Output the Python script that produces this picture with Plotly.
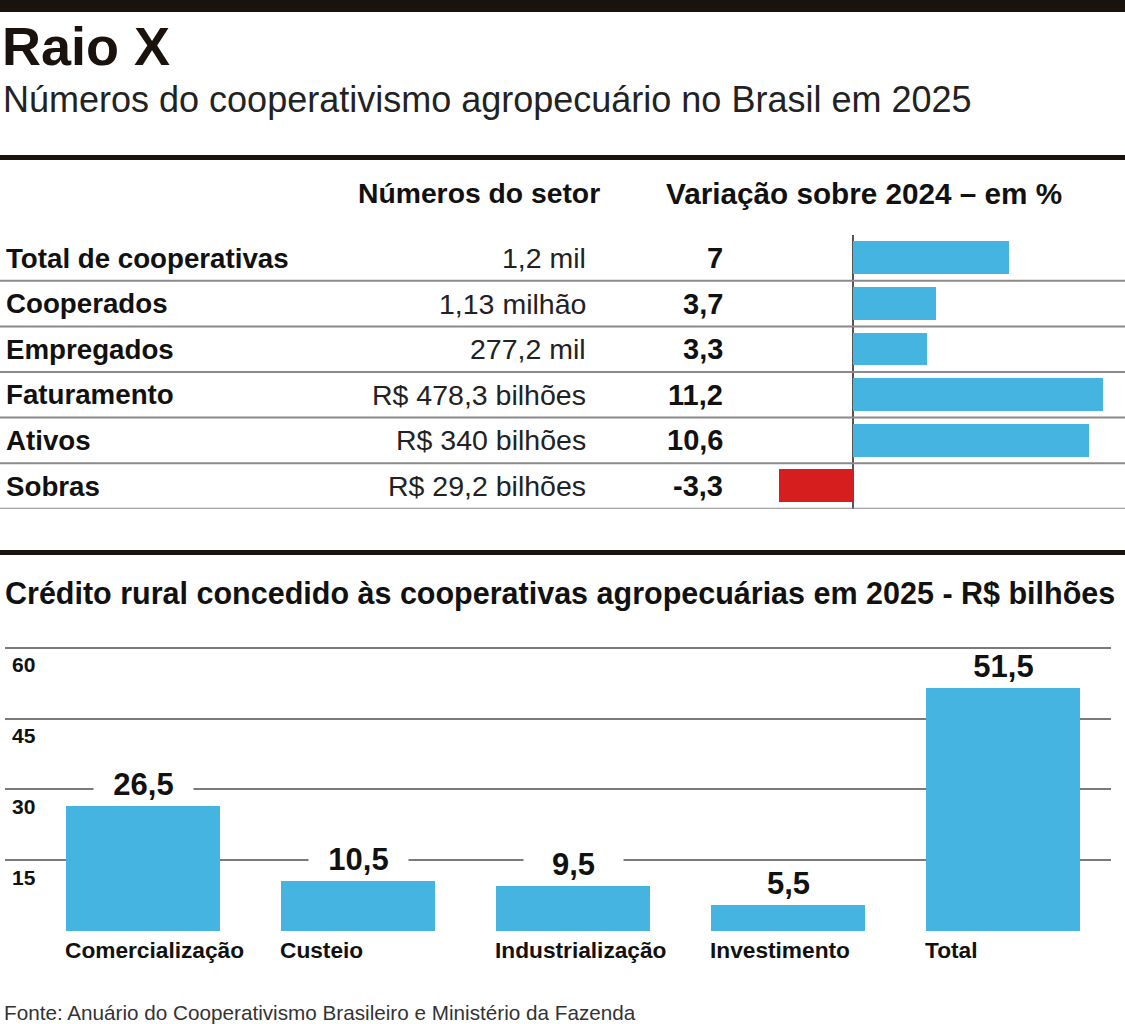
import plotly.graph_objects as go

# ---------------- data ----------------
indicadores = ["Total de cooperativas", "Cooperados", "Empregados",
               "Faturamento", "Ativos", "Sobras"]
numeros_setor = ["1,2 mil", "1,13 milhão", "277,2 mil",
                 "R$ 478,3 bilhões", "R$ 340 bilhões", "R$ 29,2 bilhões"]
variacao_2024 = [7, 3.7, 3.3, 11.2, 10.6, -3.3]

credito_categorias = ["Comercialização", "Custeio", "Industrialização",
                      "Investimento", "Total"]
credito_valores = [26.5, 10.5, 9.5, 5.5, 51.5]
credito_ticks = [0, 15, 30, 45, 60]
credito_ticktext = ["", "15", "30", "45", "60"]

titulo = "Raio X"
subtitulo = "Números do cooperativismo agropecuário no Brasil em 2025"
cab_setor = "Números do setor"
cab_var = "Variação sobre 2024 – em %"
titulo_credito = "Crédito rural concedido às cooperativas agropecuárias em 2025 - R$ bilhões"
fonte = "Fonte: Anuário do Cooperativismo Brasileiro e Ministério da Fazenda"

# ---------------- style ----------------
W, H = 1125, 1024
FONT = "Liberation Sans, Arial, sans-serif"
BLUE = "#45B4E0"
RED = "#D71E1E"
INK = "#111111"
GRID = "#7a7a7a"


def px(x):
    return x / W


def py(y):
    return 1 - y / H


def fmt(v):
    return f"{v:g}".replace(".", ",")


fig = go.Figure()

# horizontal bars (variação)
fig.add_trace(go.Bar(
    y=indicadores, x=variacao_2024, orientation="h",
    marker=dict(color=[BLUE if v >= 0 else RED for v in variacao_2024], line=dict(width=0)),
    width=0.72, xaxis="x2", yaxis="y2", hoverinfo="skip",
))

# vertical bars (crédito)
fig.add_trace(go.Bar(
    x=credito_categorias, y=credito_valores,
    marker=dict(color=BLUE, line=dict(width=0)),
    width=0.716, xaxis="x", yaxis="y", hoverinfo="skip",
))

n = len(indicadores)
annotations = []
shapes = []

# titles
annotations.append(dict(text=f"<b>{titulo}</b>", x=px(0), y=py(46), xref="paper", yref="paper",
                        xanchor="left", yanchor="middle", showarrow=False,
                        font=dict(family=FONT, size=54, color="#1a120c")))
annotations.append(dict(text=subtitulo, x=px(1), y=py(99), xref="paper", yref="paper",
                        xanchor="left", yanchor="middle", showarrow=False,
                        font=dict(family=FONT, size=36, color="#222222")))

# table headers
annotations.append(dict(text=f"<b>{cab_setor}</b>", x=px(602), y=py(193), xref="paper", yref="paper",
                        xanchor="right", yanchor="middle", showarrow=False,
                        font=dict(family=FONT, size=28.3, color=INK)))
annotations.append(dict(text=f"<b>{cab_var}</b>", x=px(664), y=py(193), xref="paper", yref="paper",
                        xanchor="left", yanchor="middle", showarrow=False,
                        font=dict(family=FONT, size=29.7, color=INK)))

# table rows
for i, (lab, num, var) in enumerate(zip(indicadores, numeros_setor, variacao_2024)):
    annotations.append(dict(text=f"<b>{lab}</b>", x=px(4), y=lab, xref="paper", yref="y2",
                            xanchor="left", yanchor="middle", showarrow=False,
                            font=dict(family=FONT, size=27.7, color=INK)))
    annotations.append(dict(text=num, x=px(588), y=lab, xref="paper", yref="y2",
                            xanchor="right", yanchor="middle", showarrow=False,
                            font=dict(family=FONT, size=28.5, color="#222222")))
    annotations.append(dict(text=f"<b>{fmt(var)}</b>", x=px(725), y=lab, xref="paper", yref="y2",
                            xanchor="right", yanchor="middle", showarrow=False,
                            font=dict(family=FONT, size=29, color=INK)))
    shapes.append(dict(type="line", xref="paper", yref="y2", x0=0, x1=1, y0=i + 0.5, y1=i + 0.5,
                       line=dict(color="#8a8a8a", width=2)))

# section title
annotations.append(dict(text=f"<b>{titulo_credito}</b>", x=px(3), y=py(593), xref="paper", yref="paper",
                        xanchor="left", yanchor="middle", showarrow=False,
                        font=dict(family=FONT, size=30.5, color=INK)))

# bar value labels and category labels
for cat, val in zip(credito_categorias, credito_valores):
    annotations.append(dict(text=f"<b>{fmt(val)}</b>", x=cat, y=val, xref="x", yref="y",
                            xanchor="center", yanchor="middle", yshift=22, showarrow=False,
                            bgcolor="white", width=99, height=32, borderpad=0,
                            font=dict(family=FONT, size=31, color=INK)))
    annotations.append(dict(text=f"<b>{cat}</b>", x=cat, y=py(950), xref="x", yref="paper",
                            xanchor="left", yanchor="middle", xshift=-80, showarrow=False,
                            font=dict(family=FONT, size=22.7, color=INK)))

# source
annotations.append(dict(text=fonte, x=px(2), y=py(1012), xref="paper", yref="paper",
                        xanchor="left", yanchor="middle", showarrow=False,
                        font=dict(family=FONT, size=20.7, color="#333333")))

# black rules
for y0, y1 in [(0, 12), (155, 160), (550, 555)]:
    shapes.append(dict(type="rect", xref="paper", yref="paper", x0=0, x1=1,
                       y0=py(y1), y1=py(y0), fillcolor="#1a120c", line=dict(width=0)))

fig.update_layout(
    width=W, height=H,
    margin=dict(l=0, r=0, t=0, b=0),
    paper_bgcolor="white", plot_bgcolor="rgba(0,0,0,0)",
    showlegend=False, bargap=0,
    font=dict(family=FONT, color=INK),
    annotations=annotations, shapes=shapes,
    xaxis2=dict(domain=[775 / W, 1109.5 / W], range=[-3.5, 11.5], anchor="y2",
                showticklabels=False, showgrid=False, ticks="",
                zeroline=True, zerolinecolor="#555555", zerolinewidth=2, fixedrange=True),
    yaxis2=dict(domain=[py(508.8), py(235.2)], type="category", categoryorder="array",
                categoryarray=indicadores, range=[n - 0.5, -0.5], anchor="x2",
                showticklabels=False, showgrid=False, zeroline=False, ticks="", fixedrange=True),
    xaxis=dict(domain=[5 / W, 1111 / W], range=[-0.642, 4.502], anchor="y",
               type="category", categoryorder="array", categoryarray=credito_categorias,
               showticklabels=False, showgrid=False, zeroline=False, ticks="", fixedrange=True),
    yaxis=dict(domain=[py(931.9), py(643.3)], range=[-0.2, 61], anchor="x",
               tickvals=credito_ticks, ticktext=[f"<b>{t}</b>" if t else "" for t in credito_ticktext],
               showgrid=True, gridcolor=GRID, gridwidth=2, zeroline=False,
               ticks="", ticklabelposition="inside", ticklabelshift=17, ticklabelstandoff=4,
               tickfont=dict(family=FONT, size=21, color=INK), fixedrange=True),
)

fig.write_html("out.html", config={"displayModeBar": False},
               post_script="document.body.style.margin='0';")
